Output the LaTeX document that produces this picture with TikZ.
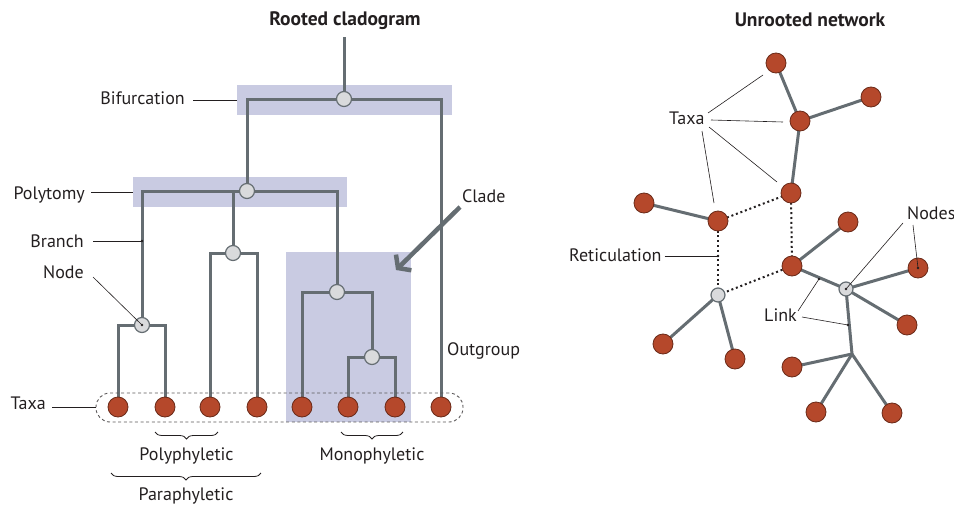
\documentclass[tikz,border=0pt]{standalone}
\usepackage{fontspec}
\setmainfont{PT Sans}
\usetikzlibrary{arrows.meta,decorations.pathreplacing}
\definecolor{rust}{HTML}{B5482B}
\definecolor{rustdark}{HTML}{6A2A18}
\definecolor{branchgray}{HTML}{656D72}
\definecolor{nodegray}{HTML}{D9DADC}
\definecolor{hlcol}{HTML}{C9CBE2}
\definecolor{txt}{HTML}{231F20}
\pgfdeclarelayer{hlayer}\pgfdeclarelayer{elayer}
\pgfsetlayers{hlayer,elayer,main}
\begin{document}
\begin{tikzpicture}[x=1pt,y=-1pt,
  taxon/.style={circle,fill=rust,draw=rustdark,line width=0.8pt,minimum size=20pt,inner sep=0pt},
  inode/.style={circle,fill=nodegray,draw=branchgray,line width=1.2pt,minimum size=15pt,inner sep=0pt},
  gnode/.style={circle,fill=nodegray,draw=branchgray,line width=1.2pt,minimum size=14pt,inner sep=0pt},
  branch/.style={draw=branchgray,line width=3pt},
  netlink/.style={draw=branchgray,line width=3pt},
  reti/.style={draw=txt,line width=2pt,dash pattern=on 2pt off 2.8pt},
  lbl/.style={font=\fontsize{18}{21}\selectfont,text=txt,inner sep=0pt},
  ttl/.style={font=\bfseries\fontsize{19.5}{22}\selectfont,text=txt,inner sep=0pt},
  ptr/.style={draw=txt,line width=0.6pt},
  pdot/.style={circle,fill=txt,inner sep=0pt,minimum size=2.6pt},
  hlbox/.style={fill=hlcol,inner sep=0pt},
  bracestyle/.style={draw=txt,line width=0.8pt,decorate,decoration={brace,mirror,amplitude=7pt}},
]
\useasboundingbox (0,0) rectangle (954,506);

% ================= Rooted cladogram =================
\node[ttl,anchor=base] (title1) at (345,25) {Rooted cladogram};

\begin{pgfonlayer}{hlayer}
\node[hlbox,minimum width=215pt,minimum height=30pt] (hbif) at (344.5,100) {};
\node[hlbox,minimum width=214pt,minimum height=30pt] (hpoly) at (240,192) {};
\node[hlbox,minimum width=125pt,minimum height=170pt] (hclade) at (348.5,337) {};
\end{pgfonlayer}

\coordinate (root) at (344,37);
\node[inode] (bif) at (344,99) {};
\node[inode] (poly) at (247,191) {};
\node[inode] (n1) at (142,325) {};
\node[inode] (n2) at (233,253) {};
\node[inode] (n3) at (337,292) {};
\node[inode] (n4) at (372,357) {};
\foreach \i/\x in {1/118,2/165,3/210,4/257,5/302,6/348,7/395,8/441}
  \node[taxon] (t\i) at (\x,407) {};

\begin{pgfonlayer}{elayer}
\draw[branch] (root) -- (bif.center);
\draw[branch] (bif.center) -| (poly.center);
\draw[branch] (bif.center) -| (t8.center);
\draw[branch] (poly.center) -| (n1.center);
\draw[branch] (poly.center) -| (n2.center);
\draw[branch] (poly.center) -| (n3.center);
\draw[branch] (n1.center) -| (t1.center);
\draw[branch] (n1.center) -| (t2.center);
\draw[branch] (n2.center) -| (t3.center);
\draw[branch] (n2.center) -| (t4.center);
\draw[branch] (n3.center) -| (t5.center);
\draw[branch] (n3.center) -| (n4.center);
\draw[branch] (n4.center) -| (t6.center);
\draw[branch] (n4.center) -| (t7.center);
\node[draw=txt!75,line width=0.9pt,dash pattern=on 3pt off 2.6pt,rounded corners=14pt,
      minimum width=367pt,minimum height=29pt,inner sep=0pt] (taxbox) at (279.5,407.5) {};
\end{pgfonlayer}

% clade arrow
\coordinate (cladefrom) at (460,207);
\coordinate (cladeto) at (396,270);
\draw[draw=branchgray,line width=4.5pt,-{Straight Barb[length=8pt,width=22pt]}] (cladefrom) -- (cladeto);

% labels
\node[lbl,anchor=base east] (lbif) at (185,104) {Bifurcation};
\draw[ptr] ([xshift=8pt]lbif.east |- hbif.west) -- (hbif.west);
\node[lbl,anchor=base east] (lpoly) at (85,199) {Polytomy};
\draw[ptr] ([xshift=6pt]lpoly.east |- hpoly.west) -- (hpoly.west);
\node[lbl,anchor=base east] (lbranch) at (84,247) {Branch};
\coordinate (brpt) at (142,241);
\draw[ptr] ([xshift=9pt]lbranch.east |- brpt) -- (brpt);
\node[pdot] (brdot) at (brpt) {};
\node[lbl,anchor=base east] (lnode) at (84,278) {Node};
\coordinate (nodefrom) at (93,277);
\draw[ptr] (nodefrom) -- (n1.center);
\node[pdot] (n1dot) at (n1) {};
\node[lbl,anchor=base east] (ltaxa) at (46,409.5) {Taxa};
\draw[ptr] ([xshift=6pt]ltaxa.east |- taxbox.west) -- (taxbox.west);
\node[lbl,anchor=base west] (lclade) at (462,202) {Clade};
\node[lbl,anchor=base west] (lout) at (447,355) {Outgroup};

% braces
\coordinate (pb1) at (155,432); \coordinate (pb2) at (218,432);
\draw[bracestyle] (pb1) -- (pb2);
\node[lbl,anchor=base] (lpolyph) at (186.5,460) {Polyphyletic};
\coordinate (mb1) at (341,432); \coordinate (mb2) at (403,432);
\draw[bracestyle] (mb1) -- (mb2);
\node[lbl,anchor=base] (lmono) at (372,460) {Monophyletic};
\coordinate (ab1) at (111,473); \coordinate (ab2) at (261,473);
\draw[bracestyle] (ab1) -- (ab2);
\node[lbl,anchor=base] (lpara) at (186,500.5) {Paraphyletic};

% ================= Unrooted network =================
\node[ttl,anchor=base] (title2) at (810,26) {Unrooted network};

\node[taxon] (A) at (776,63) {};
\node[taxon] (B) at (871,97) {};
\node[taxon] (C) at (800,121) {};
\node[taxon] (D) at (791,193) {};
\node[taxon] (E) at (644,203) {};
\node[taxon] (F) at (718,221) {};
\node[taxon] (G) at (848,222) {};
\node[taxon] (H) at (792,266) {};
\node[gnode] (I) at (718,295) {};
\node[gnode] (J) at (846,289) {};
\node[taxon] (K) at (918,268) {};
\node[taxon] (L) at (907,325) {};
\node[taxon] (M) at (663,344) {};
\node[taxon] (N) at (735,359) {};
\coordinate (P) at (852,354);
\node[taxon] (Q) at (792,367) {};
\node[taxon] (R) at (816,412) {};
\node[taxon] (S) at (892,413) {};

\begin{pgfonlayer}{elayer}
\foreach \a/\b in {A/C,B/C,C/D,E/F,G/H,H/J,J/K,J/L,I/M,I/N}
  \draw[netlink] (\a.center) -- (\b.center);
\draw[netlink] (J.center) -- (P);
\foreach \b in {Q,R,S}
  \draw[netlink] (P) -- (\b.center);
\draw[reti] (F.center) -- (D.center);
\draw[reti] (F.center) -- (I.center);
\draw[reti] (D.center) -- (H.center);
\draw[reti] (I.center) -- (H.center);
\end{pgfonlayer}

% labels
\node[lbl,anchor=base west] (ltaxa2) at (669,124) {Taxa};
\coordinate (tf1) at (708,113); \coordinate (ta1) at (763,75);
\coordinate (tf2) at (711,120); \coordinate (ta2) at (783,122);
\coordinate (tf3) at (709,127); \coordinate (ta3) at (777,182);
\coordinate (tf4) at (702,131); \coordinate (ta4) at (714,203);
\draw[ptr] (tf1) -- (ta1);
\draw[ptr] (tf2) -- (ta2);
\draw[ptr] (tf3) -- (ta3);
\draw[ptr] (tf4) -- (ta4);

\node[lbl,anchor=base west] (lreti) at (569,261) {Reticulation};
\coordinate (retipt) at (718,256);
\draw[ptr] ([xshift=3pt]lreti.east |- retipt) -- (retipt);
\node[pdot] (retidot) at (retipt) {};

\node[lbl,anchor=base west] (lnodes) at (907,219) {Nodes};
\coordinate (nf1) at (903,223);
\coordinate (nf2) at (913,225);
\draw[ptr] (nf1) -- (J.center);
\draw[ptr] (nf2) -- (K.center);
\node[pdot] (Jdot) at (J) {};
\node[pdot] (Kdot) at (K) {};

\node[lbl,anchor=base west] (llink) at (764,321) {Link};
\coordinate (lk1) at (819,279);
\coordinate (lk2) at (848,325);
\coordinate (lf1) at (798,311);
\coordinate (lf2) at (802,317);
\draw[ptr] (lf1) -- (lk1);
\draw[ptr] (lf2) -- (lk2);
\node[pdot] (lk1dot) at (lk1) {};
\node[pdot] (lk2dot) at (lk2) {};
\end{tikzpicture}
\end{document}
